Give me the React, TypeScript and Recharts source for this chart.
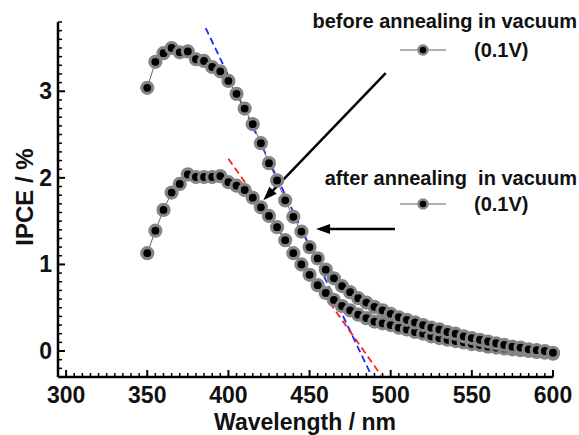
import React from "react";
import {
  ComposedChart,
  Line,
  XAxis,
  YAxis,
  ReferenceLine,
} from "recharts";

document.body.style.margin = "0";

const FONT = "'Liberation Sans', Arial, sans-serif";

const W = 579;
const H = 435;
const MARGIN_TOP = 22;
const MARGIN_RIGHT = 26;
const AXIS_X = 58; // left edge of plot
const AXIS_Y = 377; // bottom edge of plot
const X_DOMAIN = [295, 600];
const Y_DOMAIN = [-0.3, 3.8];

const wavelengths = [
  350, 355, 360, 365, 370, 375, 380, 385, 390, 395, 400, 405, 410, 415, 420,
  425, 430, 435, 440, 445, 450, 455, 460, 465, 470, 475, 480, 485, 490, 495,
  500, 505, 510, 515, 520, 525, 530, 535, 540, 545, 550, 555, 560, 565, 570,
  575, 580, 585, 590, 595, 600,
];

// IPCE before annealing (upper curve)
const beforeIpce = [
  3.04, 3.34, 3.44, 3.5, 3.45, 3.46, 3.37, 3.35, 3.28, 3.23, 3.12, 2.97, 2.8,
  2.62, 2.4, 2.17, 1.97, 1.74, 1.55, 1.38, 1.2, 1.07, 0.94, 0.84, 0.75, 0.68,
  0.61, 0.56, 0.51, 0.47, 0.43, 0.39, 0.36, 0.33, 0.3, 0.27, 0.25, 0.22, 0.2,
  0.17, 0.15, 0.13, 0.11, 0.09, 0.07, 0.05, 0.04, 0.02, 0.01, 0.0, -0.02,
];

// IPCE after annealing (lower curve)
const afterIpce = [
  1.13, 1.39, 1.63, 1.83, 1.93, 2.04, 2.01, 2.01, 2.01, 2.02, 1.95, 1.91, 1.86,
  1.77, 1.66, 1.56, 1.43, 1.28, 1.13, 1.0, 0.88, 0.76, 0.67, 0.59, 0.52, 0.47,
  0.42, 0.38, 0.34, 0.32, 0.3, 0.27, 0.25, 0.22, 0.2, 0.17, 0.15, 0.13, 0.115,
  0.1, 0.08, 0.07, 0.05, 0.04, 0.03, 0.02, 0.01, 0.0, -0.01, -0.02, -0.03,
];

// linear fit lines (dashed)
const blueFit = [
  { x: 386, y: 3.73 },
  { x: 487, y: -0.24 },
];
const redFit = [
  { x: 400, y: 2.22 },
  { x: 494, y: -0.28 },
];

// annotation arrows: start -> tip
const arrowBefore = [
  { x: 496.9, y: 3.21 },
  { x: 421.5, y: 1.74 },
];
const arrowAfter = [
  { x: 502.6, y: 1.41 },
  { x: 454, y: 1.41 },
];

const xTicks = Array.from({ length: 61 }, (_, i) => 300 + i * 5);
const yTicks = Array.from({ length: 42 }, (_, i) =>
  Math.round((-0.3 + i * 0.1) * 10) / 10
);

const data = wavelengths.map((w, i) => ({
  x: w,
  before: beforeIpce[i],
  after: afterIpce[i],
}));

const dotStyle = { r: 5.5, fill: "#000", stroke: "#858585", strokeWidth: 3.2 };

const isMajorX = (v: number) => v % 50 === 0;
const isMajorY = (v: number) => Math.abs(v - Math.round(v)) < 1e-6;

// axis positions for the inward tick marks (same box as the chart's plot area)
const plotRight = W - MARGIN_RIGHT;
const tickPx = (v: number) =>
  AXIS_X + ((v - X_DOMAIN[0]) / (X_DOMAIN[1] - X_DOMAIN[0])) * (plotRight - AXIS_X);
const tickPy = (v: number) =>
  AXIS_Y - ((v - Y_DOMAIN[0]) / (Y_DOMAIN[1] - Y_DOMAIN[0])) * (AXIS_Y - MARGIN_TOP);

function XTick(props: any) {
  const { x, payload } = props;
  const v = payload.value;
  if (!isMajorX(v)) return <g />;
  return (
    <text x={x} y={AXIS_Y + 26} textAnchor="middle" fontFamily={FONT} fontWeight="bold" fontSize={23} fill="#111">
      {v}
    </text>
  );
}

function YTick(props: any) {
  const { y, payload } = props;
  const v = payload.value;
  if (!isMajorY(v)) return <g />;
  return (
    <text x={AXIS_X - 6} y={y + 8} textAnchor="end" fontFamily={FONT} fontWeight="bold" fontSize={23} fill="#111">
      {Math.round(v)}
    </text>
  );
}

function Arrow(props: any) {
  const { x1, y1, x2, y2 } = props;
  const a = Math.atan2(y2 - y1, x2 - x1);
  const len = 14;
  const half = 5;
  const bx = x2 - len * Math.cos(a);
  const by = y2 - len * Math.sin(a);
  const px = -Math.sin(a) * half;
  const py = Math.cos(a) * half;
  return (
    <g>
      <line x1={x1} y1={y1} x2={bx} y2={by} stroke="#000" strokeWidth={2.5} />
      <polygon points={`${x2},${y2} ${bx + px},${by + py} ${bx - px},${by - py}`} fill="#000" />
    </g>
  );
}

function LegendMark({ x, y }: { x: number; y: number }) {
  return (
    <g>
      <line x1={x - 23} x2={x + 23} y1={y} y2={y} stroke="#999" strokeWidth={1.5} />
      <circle cx={x} cy={y} r={4.5} fill="#000" stroke="#858585" strokeWidth={2.5} />
    </g>
  );
}

export default function App() {
  return (
    <div style={{ position: "relative", width: W, height: H, background: "#fff" }}>
      <ComposedChart
        width={W}
        height={H}
        data={data}
        margin={{ top: MARGIN_TOP, right: MARGIN_RIGHT, left: 0, bottom: 0 }}
      >
        <XAxis
          dataKey="x"
          type="number"
          domain={X_DOMAIN}
          ticks={xTicks}
          interval={0}
          height={H - AXIS_Y}
          tickLine={false}
          axisLine={{ stroke: "#000", strokeWidth: 2.5 }}
          tick={(p: any) => <XTick {...p} />}
          label={{
            content: () => (
              <text x={305} y={430} textAnchor="middle" fontFamily={FONT} fontWeight="bold" fontSize={23} fill="#111">
                Wavelength / nm
              </text>
            ),
          }}
        />
        <YAxis
          type="number"
          domain={Y_DOMAIN}
          ticks={yTicks}
          interval={0}
          width={AXIS_X}
          tickLine={false}
          axisLine={{ stroke: "#000", strokeWidth: 2.5 }}
          tick={(p: any) => <YTick {...p} />}
          label={{
            content: () => (
              <text
                x={33}
                y={197}
                transform="rotate(-90 33 197)"
                textAnchor="middle"
                fontFamily={FONT}
                fontWeight="bold"
                fontSize={24}
                fill="#111"
              >
                IPCE / %
              </text>
            ),
          }}
        />
        <Line
          data={blueFit}
          dataKey="y"
          stroke="#1a2aff"
          strokeWidth={1.8}
          strokeDasharray="7 4"
          dot={false}
          isAnimationActive={false}
        />
        <Line
          data={redFit}
          dataKey="y"
          stroke="#ff2020"
          strokeWidth={1.8}
          strokeDasharray="7 4"
          dot={false}
          isAnimationActive={false}
        />
        <Line
          dataKey="after"
          stroke="#666"
          strokeWidth={1}
          dot={dotStyle}
          isAnimationActive={false}
        />
        <Line
          dataKey="before"
          stroke="#666"
          strokeWidth={1}
          dot={dotStyle}
          isAnimationActive={false}
        />
        <ReferenceLine segment={arrowBefore} shape={<Arrow />} />
        <ReferenceLine segment={arrowAfter} shape={<Arrow />} />
      </ComposedChart>
      <svg
        width={W}
        height={H}
        style={{ position: "absolute", left: 0, top: 0, pointerEvents: "none" }}
      >
        <g stroke="#000">
          {xTicks.map((v) => (
            <line
              key={`xt-${v}`}
              x1={tickPx(v)}
              x2={tickPx(v)}
              y1={AXIS_Y}
              y2={AXIS_Y - (isMajorX(v) ? 7 : 4)}
              strokeWidth={isMajorX(v) ? 2 : 1.5}
            />
          ))}
          {yTicks.map((v) => (
            <line
              key={`yt-${v}`}
              x1={AXIS_X}
              x2={AXIS_X + (isMajorY(v) ? 7 : 4)}
              y1={tickPy(v)}
              y2={tickPy(v)}
              strokeWidth={isMajorY(v) ? 2 : 1.5}
            />
          ))}
        </g>
        <g fontFamily={FONT} fontWeight="bold" fill="#111">
          <text x={577} y={28} textAnchor="end" fontSize={20}>
            before annealing in vacuum
          </text>
          <LegendMark x={423} y={50} />
          <text x={474} y={57} fontSize={20}>
            (0.1V)
          </text>
          <text x={577} y={185} textAnchor="end" fontSize={20} style={{ whiteSpace: "pre" }}>
            {"after annealing  in vacuum"}
          </text>
          <LegendMark x={423} y={204} />
          <text x={474} y={211} fontSize={20}>
            (0.1V)
          </text>
        </g>
      </svg>
    </div>
  );
}
